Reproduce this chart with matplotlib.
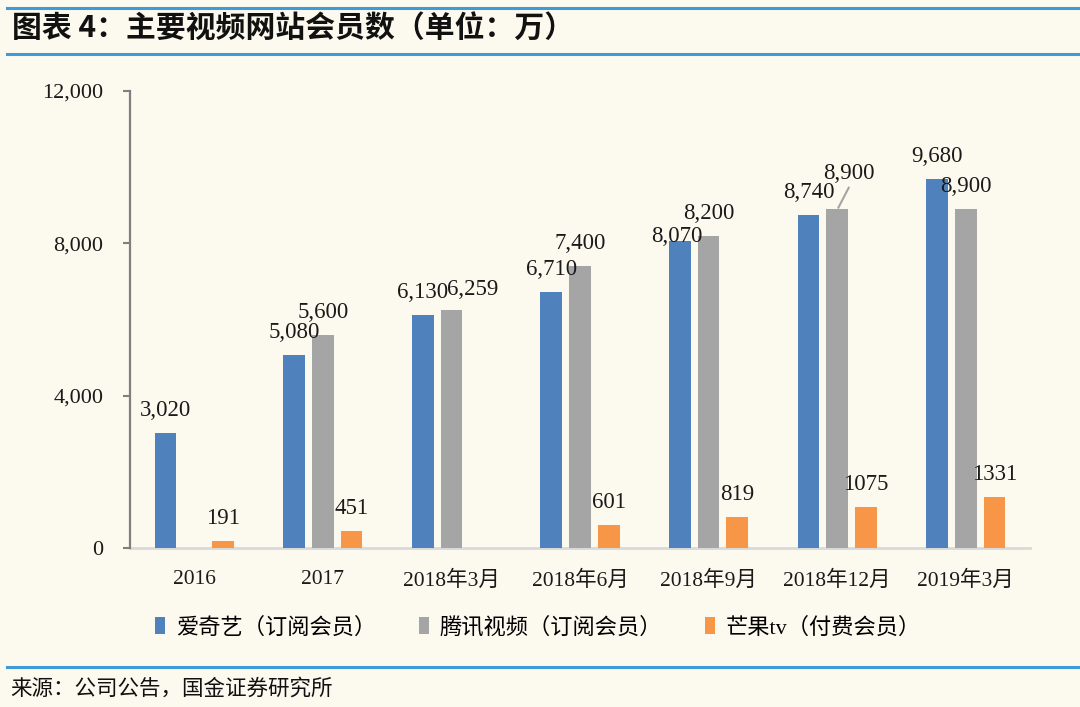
import matplotlib
matplotlib.use("Agg")
import matplotlib.pyplot as plt
import numpy as np
from matplotlib.patches import Patch
from matplotlib.lines import Line2D

categories = ["2016", "2017", "2018年3月", "2018年6月", "2018年9月", "2018年12月", "2019年3月"]
iqiyi = [3020, 5080, 6130, 6710, 8070, 8740, 9680]
tencent = [None, 5600, 6259, 7400, 8200, 8900, 8900]
mango = [191, 451, None, 601, 819, 1075, 1331]
series_names = ["爱奇艺（订阅会员）", "腾讯视频（订阅会员）", "芒果tv（付费会员）"]
title = "图表 4：主要视频网站会员数（单位：万）"
source = "来源：公司公告，国金证券研究所"
yticks = [0, 4000, 8000, 12000]

BG = "#FCF9EF"
colors = ["#4F81BD", "#A5A5A5", "#F79646"]
LINE_BLUE = "#3E9BD3"
SERIF = ["Liberation Serif", "Noto Sans CJK SC"]
CJK = ["Noto Sans CJK SC", "DejaVu Sans"]

fig = plt.figure(figsize=(10.8, 7.07), dpi=100, facecolor=BG)
ax = fig.add_axes([130 / 1080, 1 - 548 / 707, 900 / 1080, 457 / 707])
ax.set_facecolor(BG)

x = np.arange(len(categories))
w = 0.169
pitch = 0.223
offsets = [-pitch, 0, pitch]
all_series = [iqiyi, tencent, mango]

# custom label adjustments (dx px, dy px) relative to default
adjust = {
    (1, 2): (21, -2),
    (0, 4): (-3, -18),
    (1, 5): (12, 13),
}

for si, (vals, col) in enumerate(zip(all_series, colors)):
    xs = [xi + offsets[si] for xi, v in zip(x, vals) if v is not None]
    vs = [v for v in vals if v is not None]
    ax.bar(xs, vs, width=w, color=col, zorder=2)
    for ci, v in enumerate(vals):
        if v is None:
            continue
        dx, dy = adjust.get((si, ci), (0, 0))
        lab = f"{v:,}" if si < 2 else f"{v}"
        ax.annotate(lab, (x[ci] + offsets[si], v),
                    xytext=(dx * 0.72, (17 + dy) * 0.72), textcoords="offset points",
                    ha="center", va="baseline", fontsize=16.5,
                    family=SERIF, color="#1a1a1a", zorder=3)

# leader line for 8,900 (2018年12月)
ci = 5
ax.plot([x[ci] + offsets[1] + 0.01, x[ci] + offsets[1] + 0.09],
        [tencent[ci] + 40, tencent[ci] + 560], color="#A5A5A5", lw=1.5, zorder=3)

ax.set_xlim(-0.5, len(categories) - 0.5)
ax.set_ylim(0, 12000)
ax.set_yticks(yticks)
ax.set_yticklabels([f"{t:,}" for t in yticks], family=SERIF, fontsize=16, color="#1a1a1a")
ax.set_xticks(x)
ax.set_xticklabels(categories, family=SERIF, fontsize=15.5, color="#1a1a1a")
ax.tick_params(axis="x", length=0, pad=16)
ax.tick_params(axis="y", direction="out", length=5, width=1.5, color="#7F7F7F", pad=14)

for s in ["top", "right"]:
    ax.spines[s].set_visible(False)
ax.spines["left"].set_color("#7F7F7F")
ax.spines["left"].set_linewidth(1.6)
ax.spines["bottom"].set_color("#D9D9D9")
ax.spines["bottom"].set_linewidth(2)
ax.spines["bottom"].set_zorder(1)

handles = [Patch(facecolor=c, edgecolor="none") for c in colors]
fig.legend(handles, series_names, loc="center", bbox_to_anchor=(538 / 1080, 1 - 628 / 707),
           ncol=3, frameon=False, prop={"family": SERIF, "size": 16},
           handlelength=0.45, handleheight=0.8, handletextpad=0.5, columnspacing=1.9)

# header / footer lines and texts
for yy in [8, 54, 667]:
    fig.add_artist(Line2D([7 / 1080, 1], [1 - yy / 707] * 2, color=LINE_BLUE, lw=2.2,
                          transform=fig.transFigure))
fig.text(12 / 1080, 1 - 29 / 707, title, family=CJK, fontsize=21.5, fontweight="bold",
         color="#111111", ha="left", va="center")
fig.text(10 / 1080, 1 - 689 / 707, source, family=CJK, fontsize=15.5,
         color="#111111", ha="left", va="center")

fig.savefig("out.png", dpi=100, facecolor=BG)
